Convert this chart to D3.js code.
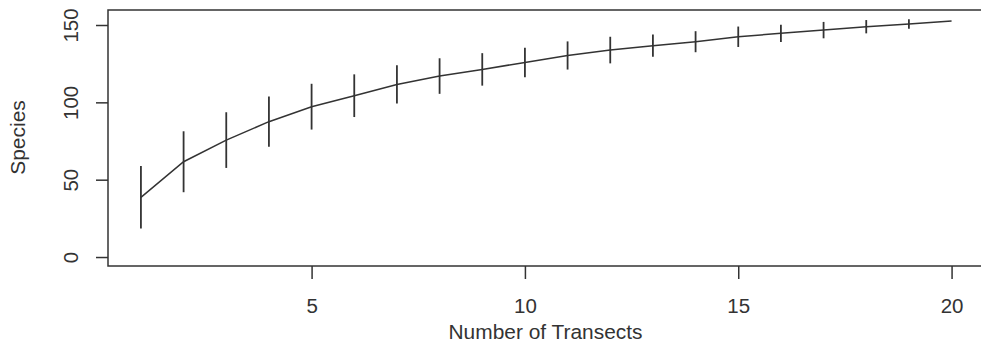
<!DOCTYPE html>
<html>
<head>
<meta charset="utf-8">
<script src="https://cdn.jsdelivr.net/npm/d3@7"></script>
<style>
body { margin: 0; background: #fff; }
text { font-family: "Liberation Sans", Arial, sans-serif; fill: #333; }
</style>
</head>
<body>
<svg id="graph1"></svg>
<script>
var transects = [1,2,3,4,5,6,7,8,9,10,11,12,13,14,15,16,17,18,19,20]
var species = [38.6,61.6,75.6,87.5,97.2,104.3,111.6,117,121.3,125.8,130.3,133.8,136.6,139.2,142.4,144.6,146.7,148.9,150.6,152.6]
var sd = [20.2,19.7,18,16.2,14.8,13.8,12.4,11.5,10.5,9.5,9.1,8.6,7.2,6.8,6.6,5.6,5.3,4.3,3.1,0]
var xTicks = [5,10,15,20]
var yTicks = [0,50,100,150]

var screen = {width: 981, height: 346};
var box = {left: 108, top: 10, right: 990, bottom: 266};

var svg = d3.select("#graph1")
    .attr("width", screen.width)
    .attr("height", screen.height)

var xScale = d3.scaleLinear()
    .domain([0.24, 20.76])
    .range([108.5, 984])

var yScale = d3.scaleLinear()
    .domain([-5.8, 159.7])
    .range([266, 10])

var data = transects.map(function(t, i) {
    return {x: t, y: species[i], sd: sd[i]}
})

// error bars
svg.append("g")
    .selectAll("line")
    .data(data.filter(function(d) { return d.sd > 0 }))
    .enter()
    .append("line")
    .attr("x1", function(d) { return xScale(d.x) })
    .attr("x2", function(d) { return xScale(d.x) })
    .attr("y1", function(d) { return yScale(d.y - d.sd) })
    .attr("y2", function(d) { return yScale(d.y + d.sd) })
    .attr("stroke", "#333")
    .attr("stroke-width", 1.8)

// curve
svg.append("path")
    .datum(data)
    .attr("fill", "none")
    .attr("stroke", "#333")
    .attr("stroke-width", 1.5)
    .attr("d", d3.line()
        .x(function(d) { return xScale(d.x) })
        .y(function(d) { return yScale(d.y) }))

// box
svg.append("rect")
    .attr("x", box.left)
    .attr("y", box.top)
    .attr("width", box.right - box.left)
    .attr("height", box.bottom - box.top)
    .attr("fill", "none")
    .attr("stroke", "#333")
    .attr("stroke-width", 1.5)

var xAxis = d3.axisBottom(xScale)
    .tickValues(xTicks)
    .tickSize(13)
    .tickFormat(d3.format("d"))

var yAxis = d3.axisLeft(yScale)
    .tickValues(yTicks)
    .tickSize(12)
    .tickFormat(d3.format("d"))

var gx = svg.append("g")
    .attr("transform", "translate(0," + box.bottom + ")")
    .call(xAxis)
gx.select(".domain").remove()
gx.selectAll("line").attr("stroke", "#333").attr("stroke-width", 1.5)
gx.selectAll("text")
    .attr("font-size", 20.5)
    .attr("y", 0)
    .attr("dy", null)
    .attr("transform", "translate(0,47)")
    .style("font-family", "Liberation Sans, Arial, sans-serif")
    .attr("fill", "#333")

var gy = svg.append("g")
    .attr("transform", "translate(" + box.left + ",0)")
    .call(yAxis)
gy.select(".domain").remove()
gy.selectAll("line").attr("stroke", "#333").attr("stroke-width", 1.5)
gy.selectAll("text")
    .attr("font-size", 20.5)
    .attr("x", 0)
    .attr("y", 0)
    .attr("dy", null)
    .attr("text-anchor", "middle")
    .attr("transform", "translate(-30,0) rotate(-90)")
    .style("font-family", "Liberation Sans, Arial, sans-serif")
    .attr("fill", "#333")

svg.append("text")
    .attr("x", 545.5)
    .attr("y", 339)
    .attr("text-anchor", "middle")
    .attr("font-size", 20.5)
    .attr("textLength", 194)
    .attr("lengthAdjust", "spacingAndGlyphs")
    .text("Number of Transects")

svg.append("text")
    .attr("transform", "translate(25,137.5) rotate(-90)")
    .attr("text-anchor", "middle")
    .attr("font-size", 21)
    .text("Species")
</script>
</body>
</html>
